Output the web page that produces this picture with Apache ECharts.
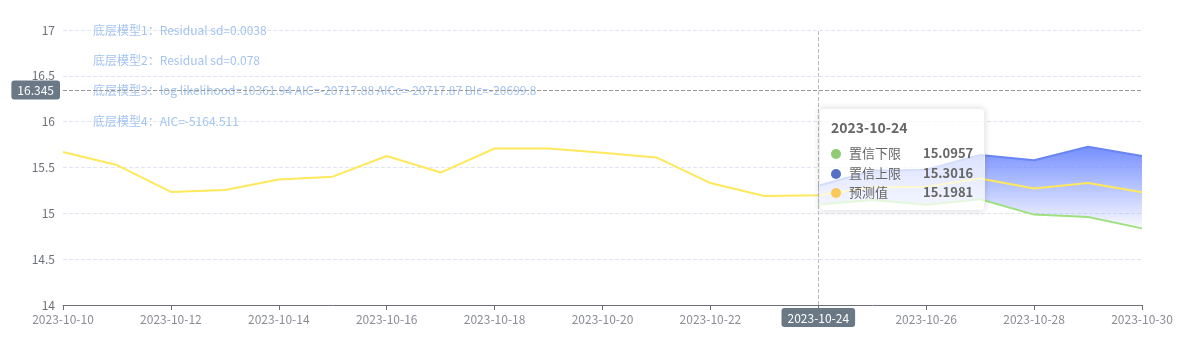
<!DOCTYPE html>
<html>
<head>
<meta charset="utf-8">
<script src="https://cdn.jsdelivr.net/npm/echarts@6/dist/echarts.min.js"></script>
<style>
html,body{margin:0;padding:0;background:#fff;}
#myChart{width:1189px;height:351px;}
</style>
</head>
<body>
<div id="myChart"></div>
<script>
var dates = ['2023-10-10','2023-10-11','2023-10-12','2023-10-13','2023-10-14','2023-10-15','2023-10-16',
    '2023-10-17','2023-10-18','2023-10-19','2023-10-20','2023-10-21','2023-10-22','2023-10-23',
    '2023-10-24','2023-10-25','2023-10-26','2023-10-27','2023-10-28','2023-10-29','2023-10-30'];
var predValues = [15.669, 15.527, 15.233, 15.255, 15.37, 15.40, 15.625, 15.445, 15.707, 15.707,
    15.66, 15.61, 15.33, 15.19, 15.1981, 15.284, 15.29, 15.38, 15.27, 15.33, 15.23];
var lowerValues = ['-','-','-','-','-','-','-','-','-','-','-','-','-','-',
    15.0957, 15.145, 15.094, 15.153, 14.986, 14.96, 14.836];
var upperValues = ['-','-','-','-','-','-','-','-','-','-','-','-','-','-',
    15.3016, 15.465, 15.476, 15.636, 15.58, 15.727, 15.625];
var modelNotes = [
    '底层模型1：Residual sd=0.0038',
    '底层模型2：Residual sd=0.078',
    '底层模型3：log likelihood=10361.94 AIC=-20717.88 AICc=-20717.87 BIc=-20699.8',
    '底层模型4：AIC=-5164.511'
];
var seriesNames = ['置信下限', '置信上限', '预测值'];
var seriesColors = ['#91cc75', '#5470c6', '#fac858'];
var yMin = 14, yMax = 17, yStep = 0.5;
var pointerDate = '2023-10-24';
var pointerValue = 16.345;

// band = upper - lower, stacked on top of lower
var bandValues = upperValues.map(function(v, i){
    return v === '-' ? '-' : +(v - lowerValues[i]).toFixed(4);
});

var fontName = '"Noto Sans CJK SC", "Noto Sans", sans-serif';

function tipFormatter(params){
    var idx = params[0].dataIndex;
    var vals = [lowerValues[idx], upperValues[idx], predValues[idx]];
    var html = '<div style="font-weight:bold;font-size:14px;color:#666;line-height:20px;margin-bottom:6px;">' + dates[idx] + '</div>';
    for (var i = 0; i < 3; i++) {
        if (vals[i] === '-') continue;
        html += '<div style="font-size:13px;color:#666;line-height:19.5px;white-space:nowrap;">'
            + '<span style="display:inline-block;width:10px;height:10px;border-radius:5px;background:' + seriesColors[i] + ';margin-right:8px;vertical-align:-1px;"></span>'
            + '<span>' + seriesNames[i] + '</span>'
            + '<span style="float:right;margin-left:22px;font-weight:bold;">' + vals[i] + '</span></div>';
    }
    return html;
}

var option = {
    animation: false,
    textStyle: { fontFamily: fontName },
    title: {
        text: modelNotes.join('\n'),
        left: 88,
        top: 10,
        textStyle: {
            fontFamily: fontName,
            fontSize: 12,
            fontWeight: 'normal',
            color: '#a3c3f0',
            lineHeight: 30.3
        }
    },
    grid: { left: 63, right: 47, top: 30, bottom: 46, containLabel: false },
    tooltip: {
        trigger: 'axis',
        alwaysShowContent: true,
        triggerOn: 'none',
        backgroundColor: 'rgba(255,255,255,0.72)',
        borderColor: '#eee',
        borderWidth: 1,
        padding: [8, 11, 8, 11],
        extraCssText: 'box-shadow:0 0 6px rgba(0,0,0,0.15);border-radius:4px;',
        position: function(point){ return [point[0] + 1, point[1] + 18]; },
        formatter: tipFormatter,
        axisPointer: {
            type: 'cross',
            crossStyle: { color: '#999', type: 'dashed', width: 1 },
            lineStyle: { color: '#bbb', type: 'dashed', width: 1 },
            label: {
                backgroundColor: '#6a7985',
                color: '#fff',
                fontSize: 12,
                padding: [4, 6, 3, 6],
                borderRadius: 3,
                fontFamily: fontName,
                formatter: function(p){
                    return p.axisDimension === 'y' ? Number(p.value).toFixed(3) : p.value;
                }
            }
        }
    },
    xAxis: {
        type: 'category',
        boundaryGap: false,
        data: dates,
        axisLine: { show: true, lineStyle: { color: '#6e7079', width: 1 } },
        axisTick: { show: true, interval: 1, length: 5, lineStyle: { color: '#6e7079' } },
        axisLabel: { interval: 1, color: '#8a8d96', fontSize: 12, margin: 8, fontFamily: fontName },
        splitLine: { show: false }
    },
    yAxis: {
        type: 'value',
        min: yMin,
        max: yMax,
        interval: yStep,
        axisLine: { show: false },
        axisTick: { show: false },
        axisLabel: { color: '#6e7079', fontSize: 12, margin: 8, fontFamily: fontName },
        splitLine: { show: true, lineStyle: { color: '#e0e6f1', type: 'dashed', width: 1 } }
    },
    series: [
        {
            name: seriesNames[0],
            type: 'line',
            stack: 'ci',
            data: lowerValues,
            showSymbol: false,
            symbol: 'none',
            color: seriesColors[0],
            lineStyle: { color: '#91cc75', width: 2 }
        },
        {
            name: seriesNames[1],
            type: 'line',
            stack: 'ci',
            data: bandValues,
            showSymbol: false,
            symbol: 'none',
            color: seriesColors[1],
            lineStyle: { color: '#6079dc', width: 2 },
            areaStyle: {
                opacity: 1,
                color: new echarts.graphic.LinearGradient(0, 0, 0, 1, [
                    { offset: 0, color: 'rgba(100,125,245,0.95)' },
                    { offset: 1, color: 'rgba(100,125,245,0.04)' }
                ])
            }
        },
        {
            name: seriesNames[2],
            type: 'line',
            data: predValues,
            showSymbol: false,
            symbol: 'none',
            color: seriesColors[2],
            lineStyle: { color: '#fbd353', width: 2 }
        }
    ]
};

var myChart = echarts.init(document.getElementById('myChart'));
myChart.setOption(option);
function showPointer(){
    var px = myChart.convertToPixel({ gridIndex: 0 }, [pointerDate, pointerValue]);
    myChart.dispatchAction({ type: 'showTip', x: px[0], y: px[1] });
}
showPointer();
setTimeout(showPointer, 50);
</script>
</body>
</html>
